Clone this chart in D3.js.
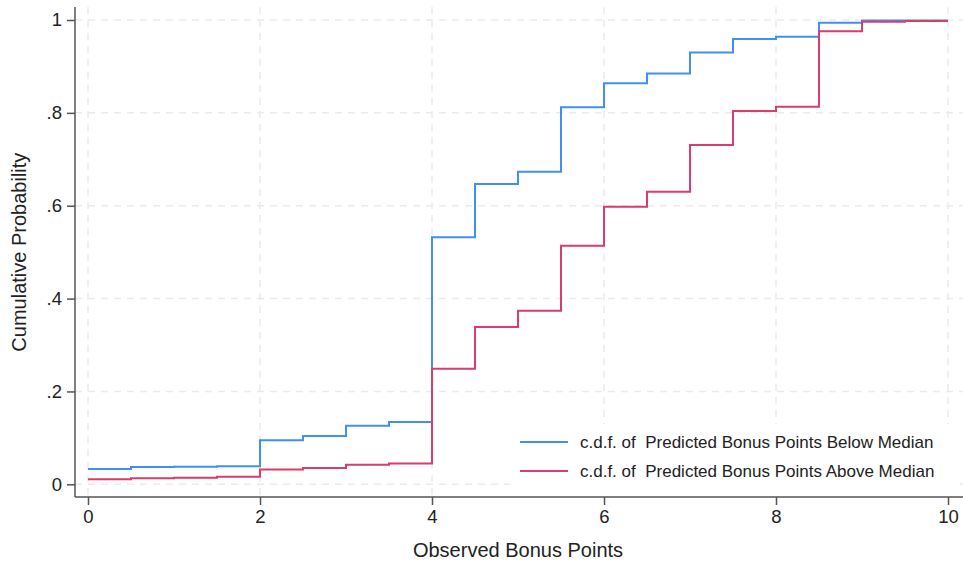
<!DOCTYPE html>
<html>
<head>
<meta charset="utf-8">
<script src="https://cdn.jsdelivr.net/npm/d3@7"></script>
<style>
  body { margin: 0; background: #fff; }
  text { font-family: "Liberation Sans", Arial, sans-serif; fill: #222; }
</style>
</head>
<body>
<svg id="chart"></svg>
<script>
// c.d.f. of observed bonus points, by predicted bonus points group
const bonusPoints = [0, 0.5, 1, 1.5, 2, 2.5, 3, 3.5, 4, 4.5, 5, 5.5, 6, 6.5, 7, 7.5, 8, 8.5, 9, 9.5, 10];
const cdfBelow = [0.033, 0.037, 0.038, 0.039, 0.095, 0.104, 0.126, 0.134, 0.532, 0.647, 0.673, 0.812, 0.864, 0.885, 0.930, 0.959, 0.964, 0.994, 0.999, 0.999, 0.999];
const cdfAbove = [0.011, 0.013, 0.014, 0.016, 0.032, 0.035, 0.042, 0.045, 0.249, 0.339, 0.374, 0.514, 0.598, 0.630, 0.731, 0.804, 0.813, 0.976, 0.996, 0.998, 0.998];
const seriesNames = ["c.d.f. of  Predicted Bonus Points Below Median", "c.d.f. of  Predicted Bonus Points Above Median"];
const xTicks = [0, 2, 4, 6, 8, 10];
const yTicks = [0, 0.2, 0.4, 0.6, 0.8, 1];

const W = 963, H = 565;
const frame = { left: 75, right: 963, top: 7, bottom: 497 };

const svg = d3.select("#chart").attr("width", W).attr("height", H);

const x = d3.scaleLinear().domain([0, 10]).range([88, 948]);
const y = d3.scaleLinear().domain([0, 1]).range([484.3, 20]);

const colors = ["#3f8ff5", "#d93d6b"];
const yFmt = d => d === 0 ? "0" : d === 1 ? "1" : d3.format(".1f")(d).replace("0.", ".");

// grid
const grid = svg.append("g")
    .attr("stroke", "#ebebeb")
    .attr("stroke-width", 1.5)
    .attr("stroke-dasharray", "7,6");

grid.selectAll(".vg").data(xTicks).enter().append("line")
    .attr("x1", d => x(d)).attr("x2", d => x(d))
    .attr("y1", frame.top).attr("y2", frame.bottom);

grid.selectAll(".hg").data(yTicks).enter().append("line")
    .attr("x1", frame.left).attr("x2", frame.right)
    .attr("y1", d => y(d)).attr("y2", d => y(d));

// legend background hides grid behind it
svg.append("rect")
    .attr("x", 510).attr("y", 424)
    .attr("width", 450).attr("height", 72)
    .attr("fill", "#fff");

// step lines
const seriesData = [cdfBelow, cdfAbove].map(vals => bonusPoints.map((b, i) => ({ x: b, v: vals[i] })));
const stepLine = d3.line()
    .x(d => x(d.x))
    .y(d => y(d.v))
    .curve(d3.curveStepAfter);

seriesData.forEach((d, i) => {
    svg.append("path")
        .datum(d)
        .attr("fill", "none")
        .attr("stroke", colors[i])
        .attr("stroke-width", 2)
        .attr("d", stepLine);
});

// axes
const axisColor = "#555";
const yAxis = svg.append("g")
    .attr("transform", `translate(${frame.left},0)`)
    .call(d3.axisLeft(y).tickValues(yTicks).tickFormat(yFmt).tickSize(8).tickPadding(5).tickSizeOuter(0));
yAxis.select(".domain").remove();
yAxis.append("line")
    .attr("x1", 0).attr("x2", 0)
    .attr("y1", frame.top).attr("y2", frame.bottom);

const xAxis = svg.append("g")
    .attr("transform", `translate(0,${frame.bottom})`)
    .call(d3.axisBottom(x).tickValues(xTicks).tickFormat(d3.format("d")).tickSize(8).tickPadding(5).tickSizeOuter(0));
xAxis.select(".domain").remove();
xAxis.append("line")
    .attr("x1", frame.left).attr("x2", frame.right)
    .attr("y1", 0).attr("y2", 0);

[yAxis, xAxis].forEach(g => {
    g.selectAll("line").attr("stroke", axisColor).attr("stroke-width", 1.5);
    g.selectAll("text").style("font-size", "18.5px").style("font-family", "'Liberation Sans', Arial, sans-serif").attr("fill", "#222");
});

// axis titles
svg.append("text")
    .attr("x", (x(0) + x(10)) / 2)
    .attr("y", 557)
    .attr("text-anchor", "middle")
    .style("font-size", "20px")
    .text("Observed Bonus Points");

svg.append("text")
    .attr("transform", `translate(26,${(y(0) + y(1)) / 2}) rotate(-90)`)
    .attr("text-anchor", "middle")
    .style("font-size", "20px")
    .text("Cumulative Probability");

// legend
const legend = svg.selectAll(".legend")
    .data(seriesNames)
    .enter().append("g")
    .attr("class", "legend")
    .attr("transform", (d, i) => `translate(520,${442 + i * 29})`);

legend.append("line")
    .attr("x1", 0).attr("x2", 48)
    .attr("stroke", (d, i) => colors[i])
    .attr("stroke-width", 2);

legend.append("text")
    .attr("x", 60)
    .attr("y", 6)
    .style("font-size", "17px")
    .style("white-space", "pre")
    .attr("xml:space", "preserve")
    .text(d => d);
</script>
</body>
</html>
